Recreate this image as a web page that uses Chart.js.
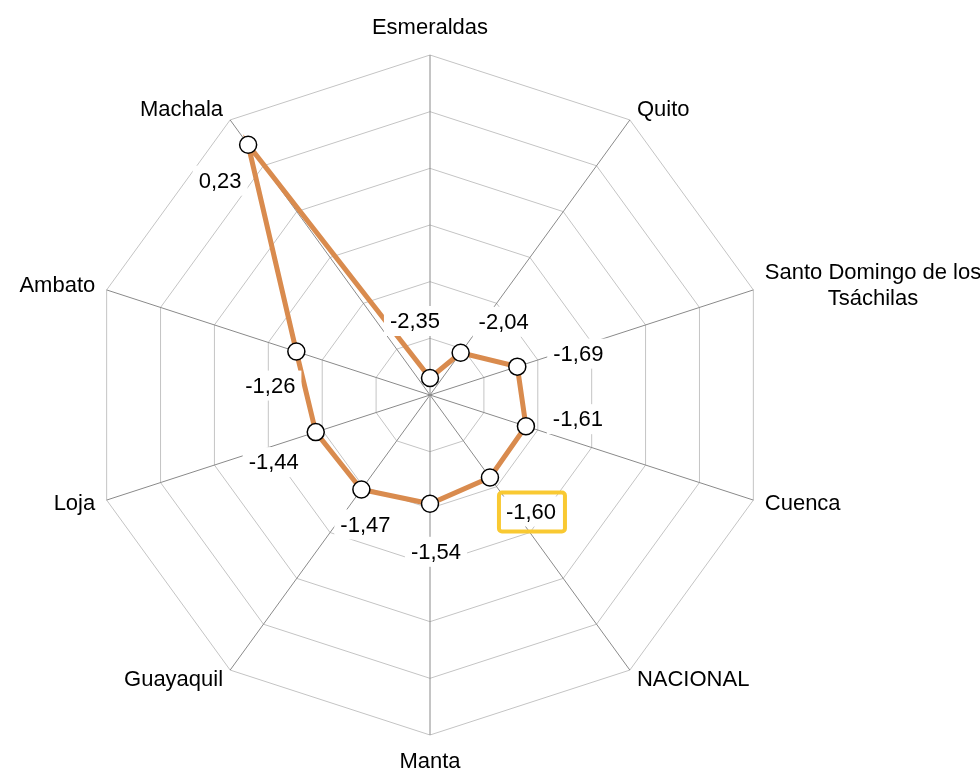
<!DOCTYPE html>
<html>
<head>
<meta charset="utf-8">
<script src="https://cdn.jsdelivr.net/npm/chart.js@4"></script>
<style>
  html, body { margin: 0; padding: 0; background: #fff; }
  #wrap { width: 980px; height: 771px; }
</style>
</head>
<body>
<div id="wrap"><canvas id="radar"></canvas></div>
<script>
// Ciudades (sentido horario desde arriba)
const ciudades = [
  'Esmeraldas', 'Quito', ['Santo Domingo de los', 'Tsáchilas'], 'Cuenca', 'NACIONAL',
  'Manta', 'Guayaquil', 'Loja', 'Ambato', 'Machala'
];
const valores = [-2.35, -2.04, -1.69, -1.61, -1.60, -1.54, -1.47, -1.44, -1.26, 0.23];
const escalaMin = -2.5;
const escalaMax = 0.5;
const escalaPaso = 0.5;
const destacado = 'NACIONAL';

const FONT = "'Liberation Sans', Arial, sans-serif";

// Desplazamiento de cada etiqueta de valor respecto a su punto (px)
const labelOffsets = [
  [-15, -57], [43, -31], [61, -13], [52, -7], [41, 34],
  [6, 48], [4, 35], [-42, 30], [-26, 34], [-28, 36]
];

const fmt = v => v.toFixed(2).replace('.', ',');

// Etiquetas de los ejes (nombres de ciudades)
const pointLabelPlugin = {
  id: 'pointLabelPlugin',
  afterDraw(chart) {
    const scale = chart.scales.r;
    const ctx = chart.ctx;
    ctx.save();
    ctx.font = '22px ' + FONT;
    ctx.fillStyle = '#000';
    ctx.textBaseline = 'middle';
    const cx = scale.xCenter;
    ciudades.forEach((lbl, i) => {
      const vert = scale.getPointPosition(i, scale.drawingArea);
      const isVert = Math.abs(vert.x - cx) < 2;
      const p = scale.getPointPosition(i, scale.drawingArea + (isVert ? 27 : 12));
      const lines = Array.isArray(lbl) ? lbl : [lbl];
      const w = Math.max(...lines.map(l => ctx.measureText(l).width));
      const lh = 26;
      let x;
      if (isVert) x = p.x;
      else if (p.x > cx) x = p.x + w / 2;
      else x = p.x - w / 2;
      const y0 = p.y - (lines.length - 1) * lh / 2;
      ctx.textAlign = 'center';
      lines.forEach((l, k) => ctx.fillText(l, x, y0 + k * lh));
    });
    ctx.restore();
  }
};

// Etiquetas de valores con fondo blanco
const valueLabelPlugin = {
  id: 'valueLabelPlugin',
  afterDatasetsDraw(chart) {
    const meta = chart.getDatasetMeta(0);
    const ctx = chart.ctx;
    ctx.save();
    ctx.font = '22px ' + FONT;
    ctx.textAlign = 'center';
    ctx.textBaseline = 'middle';
    meta.data.forEach((pt, i) => {
      const txt = fmt(valores[i]);
      const x = pt.x + labelOffsets[i][0];
      const y = pt.y + labelOffsets[i][1];
      const w = ctx.measureText(txt).width;
      const bw = w + 12, bh = 30;
      ctx.fillStyle = '#fff';
      ctx.fillRect(x - bw / 2, y - bh / 2, bw, bh);
      const name = Array.isArray(ciudades[i]) ? ciudades[i].join(' ') : ciudades[i];
      if (name === destacado) {
        ctx.strokeStyle = '#f9c932';
        ctx.lineWidth = 4;
        ctx.beginPath();
        ctx.roundRect(x - 32, y - 19, 66, 39, 3);
        ctx.stroke();
      }
      ctx.fillStyle = '#000';
      ctx.fillText(txt, x, y + 1);
    });
    ctx.restore();
  }
};

new Chart(document.getElementById('radar'), {
  type: 'radar',
  data: {
    labels: ciudades,
    datasets: [{
      data: valores,
      borderColor: '#d98b4e',
      borderWidth: 5,
      fill: false,
      tension: 0,
      pointRadius: 8.5,
      pointBackgroundColor: '#fff',
      pointBorderColor: '#000',
      pointBorderWidth: 1.5,
      pointHoverRadius: 8.5
    }]
  },
  options: {
    responsive: true,
    maintainAspectRatio: false,
    animation: false,
    layout: { padding: { left: 90, right: 210, top: 55, bottom: 36 } },
    plugins: {
      legend: { display: false },
      tooltip: { enabled: false }
    },
    scales: {
      r: {
        min: escalaMin,
        max: escalaMax,
        ticks: { display: false, stepSize: escalaPaso },
        grid: { color: '#c4c4c4', lineWidth: 1 },
        angleLines: { color: '#8a8a8a', lineWidth: 1 },
        pointLabels: { display: false }
      }
    }
  },
  plugins: [pointLabelPlugin, valueLabelPlugin]
});
</script>
</body>
</html>
